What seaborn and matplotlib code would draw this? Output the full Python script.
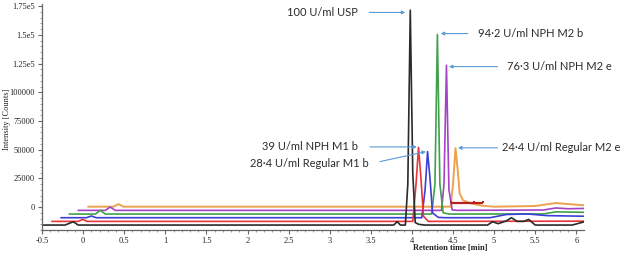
import numpy as np
import pandas as pd
import matplotlib
matplotlib.use("Agg")
import matplotlib.pyplot as plt
from matplotlib.ticker import MultipleLocator, FixedLocator
import seaborn as sns

# ---- data (displayed time [min], intensity [counts]) ----
# traces are stacked: each one sits on its own baseline
samples = ["orange", "purple", "green", "blue", "red", "black"]

orange_t = [0.06, 0.37, 0.43, 0.49, 4.47, 4.50, 4.53, 4.56, 4.58, 4.62, 4.70, 4.85, 5.00, 5.50, 5.75, 5.90, 6.10]
orange_y = [300, 300, 2600, 300, 300, 20000, 51300, 30000, 12000, 6000, 3500, 1200, 300, 900, 3500, 2600, 1500]

purple_t = [-0.06, 0.27, 0.33, 0.39, 4.36, 4.39, 4.42, 4.45, 4.49, 4.55, 5.60, 5.75, 5.90, 6.10]
purple_y = [-2900, -2900, 0, -2900, -2900, 20000, 123500, 15000, -2500, -2900, -2600, -800, -1500, -1200]

green_t = [-0.17, 0.15, 0.21, 0.27, 4.24, 4.28, 4.31, 4.34, 4.38, 4.45, 5.60, 5.75, 6.10]
green_y = [-6100, -6100, -2900, -6100, -6100, 20000, 150400, 20000, -5000, -6100, -6000, -4200, -4600]

blue_t = [-0.27, 0.04, 0.10, 0.16, 4.12, 4.16, 4.19, 4.22, 4.25, 4.32, 4.40, 4.95, 5.15, 5.40, 5.65, 6.10]
blue_y = [-9300, -9300, -7800, -9300, -9300, 15000, 48300, 25000, -5000, -9000, -9300, -9300, -6500, -6000, -7500, -8000]

red_t = [-0.38, -0.06, -0.005, 0.05, 4.01, 4.05, 4.08, 4.11, 4.14, 4.20, 6.10]
red_y = [-12500, -12500, -10800, -12500, -12500, 20000, 52000, 25000, -8000, -12500, -12300]

black_t = [-0.55, -0.22, -0.12, -0.06, 3.78, 3.82, 3.86, 3.92, 3.95, 3.98, 4.01, 4.04, 4.08, 4.15,
           4.92, 4.98, 5.05, 5.15, 5.21, 5.28, 5.36, 5.42, 5.50, 5.95, 6.10]
black_y = [-15700, -15700, -12800, -15700, -15700, -12700, -15700, -15700, 20000, 171500, 30000, -13500, -15000, -15700,
           -15700, -12800, -14500, -12000, -9300, -12500, -12500, -10800, -15700, -15700, -12800]

colors = ["#eca24e", "#a244c4", "#3fa14a", "#3b3fd6", "#e8343c", "#2a2a2a"]

# peak labels
labels = ["100 U/ml USP", "94·2 U/ml NPH M2 b", "76·3 U/ml NPH M2 e",
          "39 U/ml NPH M1 b", "28·4 U/ml Regular M1 b", "24·4 U/ml Regular M2 e"]

# dark red integration bracket under the orange peak
bracket_t = [4.47, 4.76, 4.87]
bracket_y = 3500
bracket_top = 5500

y_ticks = [0, 25000, 50000, 75000, 100000, 125000, 150000, 175000]
y_ticklabels = ["0", "25000", "50000", "75000", "100000", "1.25e5", "1.5e5", "1.75e5"]
x_ticks = [-0.5, 0, 0.5, 1, 1.5, 2, 2.5, 3, 3.5, 4, 4.5, 5, 5.5, 6]
x_ticklabels = ["-0.5", "0", "0.5", "1", "1.5", "2", "2.5", "3", "3.5", "4", "4.5", "5", "5.5", "6"]

# ---- build long table ----
series = {"orange": (orange_t, orange_y), "purple": (purple_t, purple_y), "green": (green_t, green_y),
          "blue": (blue_t, blue_y), "red": (red_t, red_y), "black": (black_t, black_y)}
frames = []
for name in samples:
    t, y = series[name]
    frames.append(pd.DataFrame({"time": t, "intensity": y, "sample": name}))
df = pd.concat(frames, ignore_index=True)

sns.set_style("ticks")
plt.rcParams["font.family"] = ["Liberation Serif", "DejaVu Serif"]

fig = plt.figure(figsize=(6.27, 2.56), dpi=100)
ax = fig.add_axes([0.067, 0.1016, 0.864, 0.883])

sns.lineplot(data=df, x="time", y="intensity", hue="sample", hue_order=samples,
             palette=colors, estimator=None, sort=False, linewidth=1.2, legend=False, ax=ax)

# make the orange peak a bit stronger, like the original
ax.lines[0].set_linewidth(1.4)

ax.hlines(bracket_y, bracket_t[0], bracket_t[-1], color="#b5231f", linewidth=1.6, zorder=5)
ax.vlines(bracket_t, bracket_y, bracket_top, color="#b5231f", linewidth=1.4, zorder=5)

ax.set_xlim(-0.5, 6.09)
ax.set_ylim(-20000, 177000)

ax.xaxis.set_major_locator(FixedLocator(x_ticks))
ax.set_xticklabels(x_ticklabels)
ax.yaxis.set_major_locator(FixedLocator(y_ticks))
ax.set_yticklabels(y_ticklabels)
ax.xaxis.set_minor_locator(MultipleLocator(0.1))
ax.yaxis.set_minor_locator(MultipleLocator(5000))
ax.tick_params(which="major", length=3, width=0.8, color="#666666", labelsize=6, pad=2, labelcolor="#222222")
ax.tick_params(which="minor", length=1.5, width=0.6, color="#888888")

sns.despine(ax=ax)
for side in ["left", "bottom"]:
    ax.spines[side].set_color("#666666")
    ax.spines[side].set_linewidth(0.9)

ax.set_xlabel("Retention time [min]", fontsize=6, fontweight="bold", color="#222222")
ax.xaxis.set_label_coords(0.753, -0.06)
ax.set_ylabel("Intensity [Counts]", fontsize=6, color="#222222")
ax.yaxis.set_label_coords(-0.058, 0.49)

# ---- annotations: label text + thin blue arrow to each peak ----
arrow_kw = dict(arrowstyle="-|>", color="#5b9bd5", lw=0.8, mutation_scale=5, shrinkA=0, shrinkB=0)
label_font = dict(fontsize=8, color="#2b2b2b", family=["Lato", "DejaVu Sans"], va="center")

# (text x, text y, ha, arrow tail x, arrow tail y, arrow head x, arrow head y)
annot = [
    (3.34, 169600, "right", 3.48, 169600, 3.92, 169600),
    (4.80, 151200, "left", 4.68, 151200, 4.35, 151200),
    (5.16, 122400, "left", 5.04, 122400, 4.45, 122400),
    (3.34, 52400, "right", 3.49, 52400, 4.06, 52400),
    (3.48, 38200, "right", 3.61, 39600, 4.17, 48300),
    (5.10, 51600, "left", 5.04, 51600, 4.56, 51600),
]
for lab, (tx, ty, ha, ax0, ay0, ax1, ay1) in zip(labels, annot):
    ax.text(tx, ty, lab, ha=ha, **label_font)
    ax.annotate("", xy=(ax1, ay1), xytext=(ax0, ay0), arrowprops=arrow_kw)

fig.savefig("out.png", dpi=100)
